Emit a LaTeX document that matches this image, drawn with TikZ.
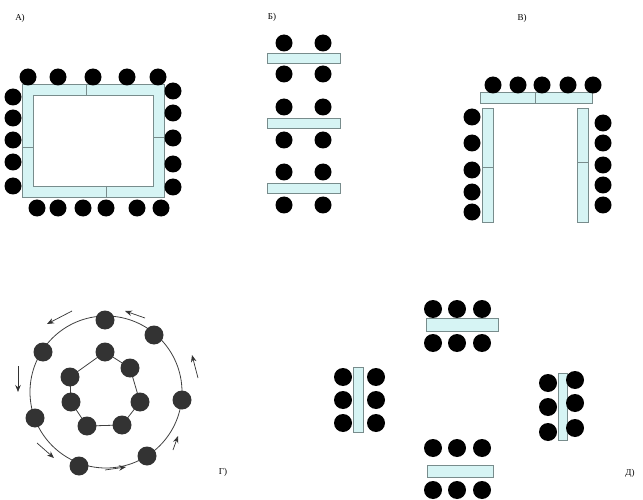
\documentclass[tikz,border=0pt]{standalone}
\usepackage{fontspec}
\setmainfont{Liberation Serif}
\usetikzlibrary{arrows.meta}
\definecolor{tcyan}{RGB}{214,244,244}
\definecolor{tedge}{RGB}{120,140,140}
\begin{document}
\begin{tikzpicture}[x=1pt,y=-1pt,
 dot/.style={circle,fill=black,inner sep=0pt,minimum size=17pt},
 ddot/.style={circle,fill=black,inner sep=0pt,minimum size=18pt},
 gdot/.style={circle,fill=black!80,inner sep=0pt,minimum size=19pt},
 tbl/.style={draw=tedge,fill=tcyan,line width=0.7pt},
 div/.style={draw=tedge,line width=0.7pt},
 lbl/.style={font=\small,inner sep=0pt},
 ring/.style={draw=black!75,line width=0.8pt},
 flow/.style={draw=black!80,line width=0.7pt,-{Stealth[length=7pt,width=5.5pt]}}]
\useasboundingbox (0,0) rectangle (643,500);

% ---------- labels
\node[lbl] (la) at (20,18) {А)};
\node[lbl] (lb) at (272,17) {Б)};
\node[lbl] (lv) at (522,18) {В)};
\node[lbl] (lg) at (223,472) {Г)};
\node[lbl] (ld) at (630,473) {Д)};

% ---------- A: closed rectangle
\draw[tbl] (22,84) rectangle (164,197);
\draw[draw=tedge,fill=white,line width=0.7pt] (33,95) rectangle (153,186);
\draw[div] (86,84) -- (86,95);
\draw[div] (22,147) -- (33,147);
\draw[div] (153,137) -- (164,137);
\draw[div] (106,186) -- (106,197);
\foreach \x [count=\i] in {28,58,93,127,158} \node[dot] (at\i) at (\x,77) {};
\foreach \y [count=\i] in {97,118,140,162,186} \node[dot] (al\i) at (13,\y) {};
\foreach \y [count=\i] in {91,113,138,164,187} \node[dot] (ar\i) at (173,\y) {};
\foreach \x [count=\i] in {37,58,83,106,137,161} \node[dot] (ab\i) at (\x,208) {};

% ---------- Б: three rows
\foreach \yb/\yt/\yd [count=\k] in {58/43/74,123/107/140,188/172/205}{
  \draw[tbl] (267,\yb-5) rectangle (340,\yb+5);
  \node[dot] (bt\k a) at (284,\yt) {};
  \node[dot] (bt\k b) at (323,\yt) {};
  \node[dot] (bd\k a) at (284,\yd) {};
  \node[dot] (bd\k b) at (323,\yd) {};
}

% ---------- В: U-shape
\draw[tbl] (480,92) rectangle (592,103);
\draw[div] (535,92) -- (535,103);
\draw[tbl] (482,108) rectangle (493,222);
\draw[div] (482,167) -- (493,167);
\draw[tbl] (577,108) rectangle (588,222);
\draw[div] (577,162) -- (588,162);
\foreach \x [count=\i] in {493,518,542,568,593} \node[dot] (vt\i) at (\x,85) {};
\foreach \y [count=\i] in {117,143,170,192,212} \node[dot] (vl\i) at (472,\y) {};
\foreach \y [count=\i] in {123,143,165,185,205} \node[dot] (vr\i) at (603,\y) {};

% ---------- Г: circles
\coordinate (gc) at (106,392);
\draw[ring] (gc) circle (76pt);
\foreach \x/\y [count=\i] in {105/352,130/368,140/402,122/425,87/426,71/402,70/377}
  \coordinate (ic\i) at (\x,\y);
\draw[ring] (ic1) -- (ic2) -- (ic3) -- (ic4) -- (ic5) -- (ic6) -- (ic7) -- cycle;
\foreach \i in {1,...,7} \node[gdot] (gi\i) at (ic\i) {};
\foreach \x/\y [count=\i] in {105/320,154/335,182/400,147/456,79/466,35/418,43/352}
  \node[gdot] (go\i) at (\x,\y) {};
\foreach \xa/\ya/\xb/\yb [count=\i] in {72/311/47/324, 18/366/18/392, 37/443/54/458,
   105/470/126/467, 173/450/178/436, 198/378/192/355, 145/318/125/311}{
  \coordinate (fs\i) at (\xa,\ya);
  \coordinate (fe\i) at (\xb,\yb);
  \draw[flow] (fs\i) -- (fe\i);
}

% ---------- Д: four groups
% top
\draw[tbl] (426,318) rectangle (498,331);
\foreach \x [count=\i] in {433,457,482}{
  \node[ddot] (dt\i) at (\x,309) {};
  \node[ddot] (dtb\i) at (\x,343) {};
}
% bottom
\draw[tbl] (427,465) rectangle (493,477);
\foreach \x [count=\i] in {433,457,482}{
  \node[ddot] (db\i) at (\x,448) {};
  \node[ddot] (dbb\i) at (\x,490) {};
}
% left
\draw[tbl] (353,367) rectangle (363,432);
\foreach \y [count=\i] in {377,400,423}{
  \node[ddot] (dl\i) at (343,\y) {};
  \node[ddot] (dlr\i) at (376,\y) {};
}
% right
\draw[tbl] (558,373) rectangle (567,440);
\foreach \y [count=\i] in {383,407,432}{
  \node[ddot] (dr\i) at (548,\y) {};
}
\foreach \y [count=\i] in {380,403,428}{
  \node[ddot] (drr\i) at (575,\y) {};
}
\end{tikzpicture}
\end{document}
